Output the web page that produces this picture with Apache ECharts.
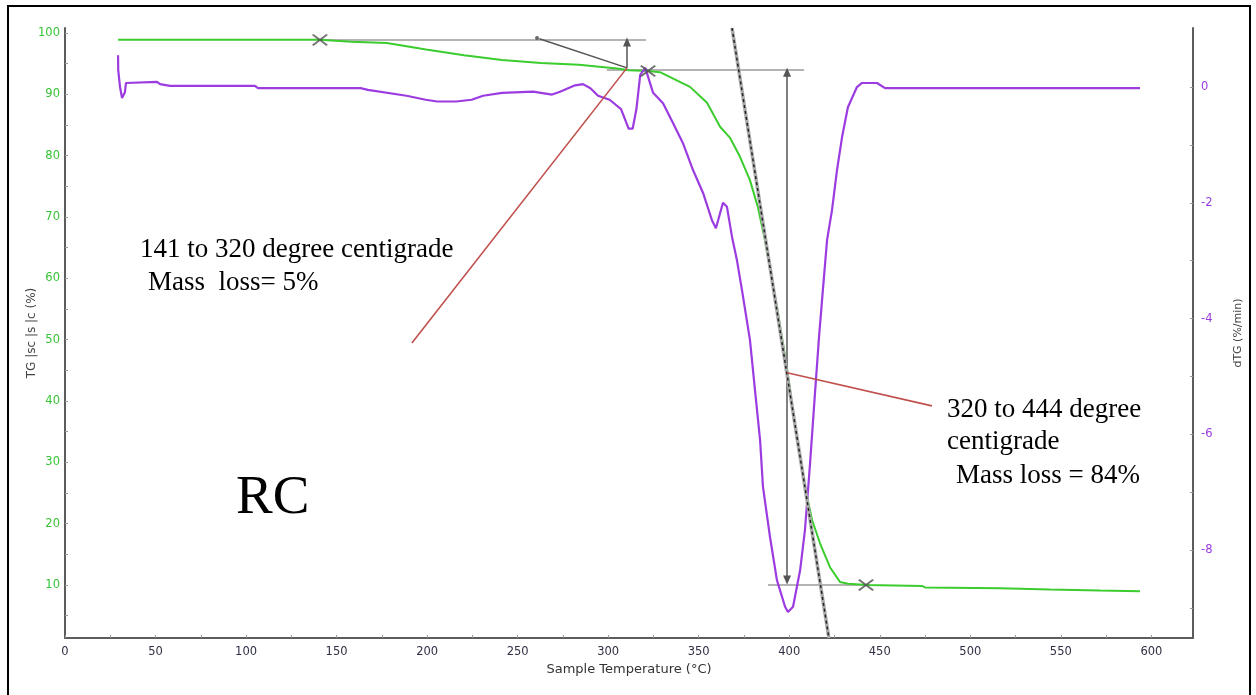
<!DOCTYPE html>
<html><head><meta charset="utf-8">
<script src="https://cdn.jsdelivr.net/npm/echarts@6/dist/echarts.min.js"></script>
<style>html,body{margin:0;padding:0;background:#fff}#c{width:1256px;height:695px}</style>
</head><body><div id="c"></div><script>
// TG curve (left axis, %)
const tgTemp = [29.3, 140.8, 158, 177.8, 199.4, 220.4, 241.4, 262.9, 283.9, 304.9, 311.5, 322, 328.6, 345.2, 354.6, 361.8, 367.3, 372.8, 378.3, 382.7, 386.6, 393.2, 398.7, 404.3, 408.7, 412.6, 417, 422.5, 428, 432.5, 443, 473.3, 475, 516.4, 544, 571.6, 593.7];
const tgMass = [98.9, 98.9, 98.55, 98.35, 97.3, 96.35, 95.6, 95.1, 94.8, 94.2, 93.9, 93.8, 93.6, 91.2, 88.6, 84.7, 82.9, 79.8, 76.0, 71.6, 66.2, 55.3, 45.5, 33.6, 26.0, 20.6, 16.8, 12.9, 10.5, 10.2, 10.0, 9.85, 9.6, 9.45, 9.25, 9.1, 9.0];
// dTG curve (right axis, %/min)
const dtgTemp = [29.3, 29.4, 30.4, 31.5, 33.1, 33.7, 50.8, 52.5, 58, 104.9, 106.6, 163.2, 167.3, 188.6, 199.2, 205.5, 216, 224.6, 230.9, 241.4, 258.5, 269, 273.4, 281.7, 286.1, 290.2, 294.4, 300.8, 307.1, 311.3, 313.5, 315.6, 317.7, 320.5, 324.8, 330.3, 335.8, 341.3, 346.8, 352.4, 357.3, 359.5, 363.4, 365.6, 368.4, 371.1, 373.9, 378.3, 381.1, 383.9, 385.5, 389.4, 393.2, 397.7, 399.3, 402.1, 406, 408.7, 411.5, 414.2, 416.5, 418.6, 420.9, 423.6, 426.4, 429.2, 432.4, 437.4, 440.2, 448.5, 452.9, 593.7];
const dtgRate = [0.55, 0.29, 0.0, -0.19, -0.09, 0.07, 0.09, 0.05, 0.02, 0.02, -0.02, -0.02, -0.05, -0.15, -0.22, -0.25, -0.25, -0.22, -0.15, -0.10, -0.08, -0.13, -0.08, 0.03, 0.05, -0.02, -0.15, -0.22, -0.38, -0.72, -0.72, -0.38, 0.21, 0.33, -0.10, -0.28, -0.62, -0.97, -1.43, -1.83, -2.30, -2.44, -2.0, -2.07, -2.59, -2.99, -3.51, -4.37, -5.24, -6.10, -6.91, -7.78, -8.52, -8.98, -9.07, -8.98, -8.35, -7.65, -6.5, -5.3, -4.3, -3.5, -2.64, -2.13, -1.43, -0.86, -0.35, 0.0, 0.07, 0.07, -0.02, -0.02];

// tick labels
const xTicks = [0, 50, 100, 150, 200, 250, 300, 350, 400, 450, 500, 550, 600];
const xTickMarks = [0, 25, 50, 75, 100, 125, 150, 175, 200, 225, 250, 275, 300, 325, 350, 375, 400, 425, 450, 475, 500, 525, 550, 575, 600];
const tgTicks = [10, 20, 30, 40, 50, 60, 70, 80, 90, 100];
const tgTickMarks = [5, 10, 15, 20, 25, 30, 35, 40, 45, 50, 55, 60, 65, 70, 75, 80, 85, 90, 95, 100];
const dtgTicks = [0, -2, -4, -6, -8];
const dtgTickMarks = [0, -1, -2, -3, -4, -5, -6, -7, -8, -9];

// annotation geometry (data coordinates, TG axis)
const baselineSegments = [[[139.7, 98.86], [320.9, 98.86]], [[299.3, 93.97], [408.2, 93.97]], [[388.3, 10.0], [444.6, 10.0]]];
const tangentSegment = [[262.0, 99.05], [310.4, 94.3]];
const tangentDot = [[260.7, 99.18]];
const slopeLine = [[368.4, 100.8], [421.9, 1.36]];
const calloutLines = [[[191.6, 49.45], [310.4, 94.3]], [[398.8, 44.6], [478.8, 39.2]]];
const stepArrowUp = [[310.4, 94.3], [310.4, 98.5]];
const stepArrowBoth = [[398.8, 93.6], [398.8, 10.8]];
const onsetMarks = [[140.8, 98.86], [322, 93.8], [442.4, 10.0]];

const pair = (a, b) => a.map((v, i) => [v, b[i]]);
const segSeries = (pts, color, width, type, z) => ({
  type: 'line', yAxisIndex: 0, data: pts, symbol: 'none', silent: true, z: z || 3,
  lineStyle: { color: color, width: width, type: type || 'solid' }, animation: false
});
const cross = 'path://M0,1 L1,0 L5,4 L9,0 L10,1 L6,5 L10,9 L9,10 L5,6 L1,10 L0,9 L4,5 Z';

const series = [];
baselineSegments.forEach(s => series.push(segSeries(s, '#b4b4b4', 2, 'solid', 2)));
series.push({ type: 'line', yAxisIndex: 0, data: pair(tgTemp, tgMass), symbol: 'none', lineStyle: { color: '#3bcc2e', width: 2 }, z: 4, animation: false });
series.push({ type: 'line', yAxisIndex: 1, data: pair(dtgTemp, dtgRate), symbol: 'none', lineStyle: { color: '#9b3be0', width: 2.2 }, z: 4, animation: false });
series.push(segSeries(tangentSegment, '#555', 1.5, 'solid', 5));
series.push({ type: 'scatter', yAxisIndex: 0, data: tangentDot, symbol: 'circle', symbolSize: 4, itemStyle: { color: '#444' }, silent: true, z: 5, animation: false });
series.push(segSeries(slopeLine, '#aaa', 3.5, 'solid', 5));
series.push(segSeries(slopeLine, '#222', 1.5, [3, 3], 6));
calloutLines.forEach(s => series.push(segSeries(s, '#c0504d', 1.6, 'solid', 6)));
series.push({
  type: 'line', yAxisIndex: 0, data: [], silent: true, animation: false,
  markLine: {
    silent: true, animation: false, label: { show: false },
    lineStyle: { color: '#555', width: 1.5, type: 'solid' }, symbolSize: [8, 9],
    data: [
      [{ coord: stepArrowUp[0], symbol: 'none' }, { coord: stepArrowUp[1], symbol: 'triangle' }],
      [{ coord: stepArrowBoth[0], symbol: 'triangle' }, { coord: stepArrowBoth[1], symbol: 'triangle' }]
    ]
  }, z: 6
});
series.push({ type: 'scatter', yAxisIndex: 0, data: onsetMarks, symbol: cross, symbolSize: [16, 12], itemStyle: { color: '#505050' }, silent: true, z: 7, animation: false });

const axisFont = 'DejaVu Sans';
const annFont = '27px "Liberation Serif"';
const option = {
  animation: false,
  grid: { left: 65, right: 63, top: 28, bottom: 57, containLabel: false },
  xAxis: {
    type: 'value', min: 0, max: 623,
    name: 'Sample Temperature (°C)', nameLocation: 'middle', nameGap: 25,
    nameTextStyle: { color: '#333', fontSize: 13, fontFamily: axisFont },
    axisLine: { onZero: false, lineStyle: { color: '#5c5c5c', width: 2 } },
    axisTick: { customValues: xTickMarks, inside: true, length: 3, lineStyle: { color: '#999' } },
    axisLabel: { customValues: xTicks, color: '#2f2f45', fontSize: 11.5, fontFamily: axisFont, margin: 8 },
    splitLine: { show: false }
  },
  yAxis: [
    {
      type: 'value', position: 'left', min: 1.36, max: 100.8,
      name: 'TG |sc |s |c (%)', nameLocation: 'middle', nameRotate: 90, nameGap: 27, nameMoveOverlap: false,
      nameTextStyle: { color: '#444', fontSize: 12, fontFamily: axisFont },
      axisLine: { show: true, onZero: false, lineStyle: { color: '#5c5c5c', width: 2 } },
      axisTick: { show: true, customValues: tgTickMarks, inside: true, length: 3, lineStyle: { color: '#999' } },
      axisLabel: { customValues: tgTicks, color: '#36c436', fontSize: 11.5, fontFamily: axisFont, margin: 5 },
      splitLine: { show: false }
    },
    {
      type: 'value', position: 'right', min: -9.52, max: 1.02,
      name: 'dTG (%/min)', nameLocation: 'middle', nameRotate: 90, nameGap: 40,
      nameTextStyle: { color: '#444', fontSize: 11, fontFamily: axisFont },
      axisLine: { show: true, onZero: false, lineStyle: { color: '#5c5c5c', width: 2 } },
      axisTick: { show: true, customValues: dtgTickMarks, inside: true, length: 3, lineStyle: { color: '#999' } },
      axisLabel: { customValues: dtgTicks, color: '#9b3be0', fontSize: 11.5, fontFamily: axisFont, margin: 8 },
      splitLine: { show: false }
    }
  ],
  graphic: [
    { type: 'rect', shape: { x: 8, y: 6, width: 1242, height: 700 }, style: { fill: 'none', stroke: '#000', lineWidth: 2 }, silent: true },
    { type: 'text', left: 140, top: 236, style: { text: '141 to 320 degree centigrade', font: annFont, fill: '#000' } },
    { type: 'text', left: 148, top: 269, style: { text: 'Mass  loss= 5%', font: annFont, fill: '#000' } },
    { type: 'text', left: 947, top: 396, style: { text: '320 to 444 degree', font: annFont, fill: '#000' } },
    { type: 'text', left: 947, top: 428, style: { text: 'centigrade', font: annFont, fill: '#000' } },
    { type: 'text', left: 956, top: 462, style: { text: 'Mass loss = 84%', font: annFont, fill: '#000' } },
    { type: 'text', left: 236, top: 471, style: { text: 'RC', font: '55px "Liberation Serif"', fill: '#000' } }
  ],
  series: series
};
const chart = echarts.init(document.getElementById('c'));
chart.setOption(option);
</script></body></html>
